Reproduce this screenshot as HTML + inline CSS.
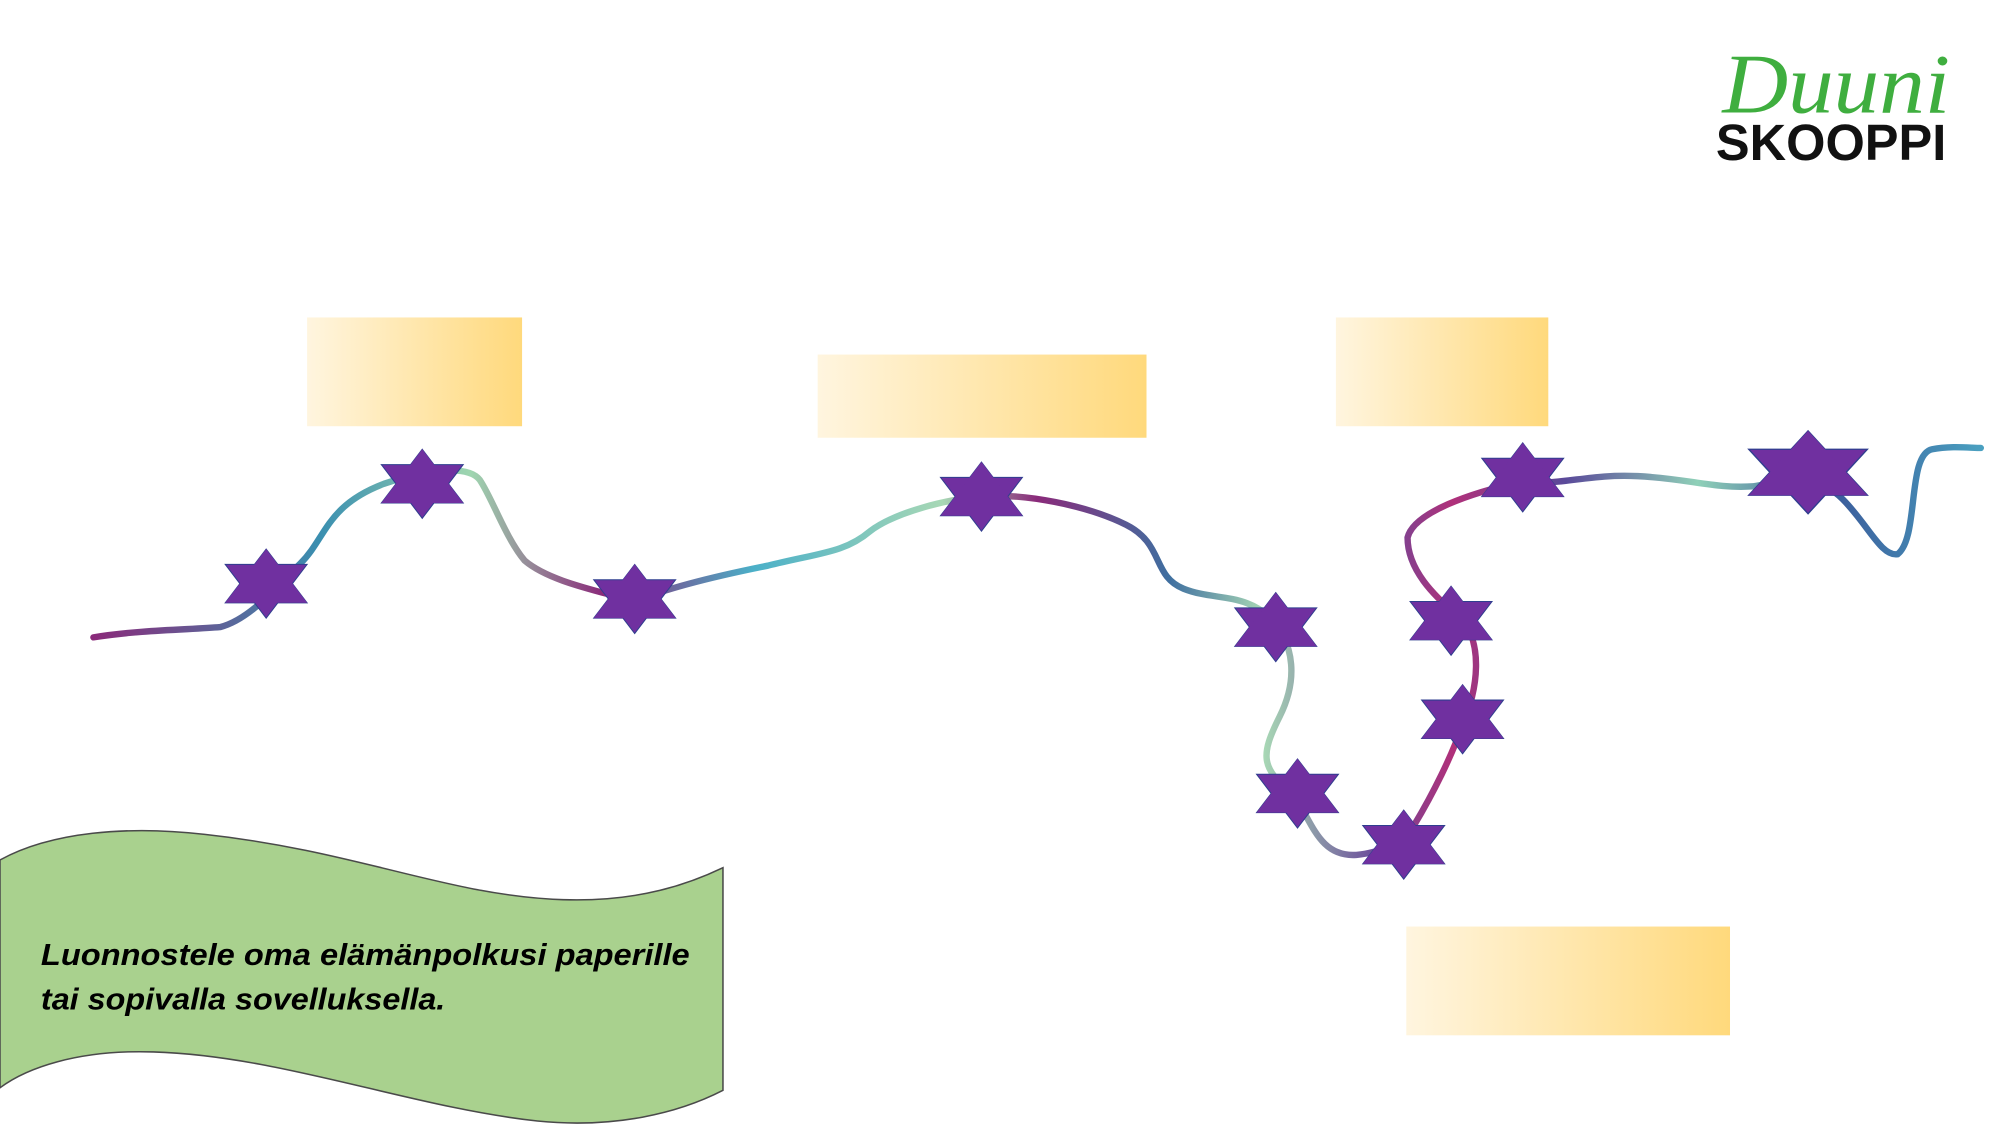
<!DOCTYPE html>
<html><head><meta charset="utf-8"><style>
html,body{margin:0;padding:0;background:#fff;}
svg{display:block;}
</style></head><body>
<svg width="2000" height="1125" viewBox="0 0 1563 879" xmlns="http://www.w3.org/2000/svg">
<defs>
<linearGradient id="box" x1="0" x2="1" y1="0" y2="0">
<stop offset="0" stop-color="#fff5df"/><stop offset="1" stop-color="#ffd97c"/>
</linearGradient>
<linearGradient id="path" x1="0" x2="1" y1="0" y2="0">
<stop offset="0" stop-color="#8a2a7a"/>
<stop offset="0.12" stop-color="#3a8fb0"/>
<stop offset="0.2" stop-color="#9fd6b0"/>
<stop offset="0.27" stop-color="#8a2a7a"/>
<stop offset="0.35" stop-color="#4bb0c8"/>
<stop offset="0.45" stop-color="#a8d8b5"/>
<stop offset="0.5" stop-color="#8a2a7a"/>
<stop offset="0.57" stop-color="#3f6fa0"/>
<stop offset="0.62" stop-color="#a8d8b5"/>
<stop offset="0.68" stop-color="#6a4a9a"/>
<stop offset="0.72" stop-color="#b0307a"/>
<stop offset="0.78" stop-color="#5a4a9a"/>
<stop offset="0.85" stop-color="#8fd0b8"/>
<stop offset="0.92" stop-color="#3a5a9a"/>
<stop offset="1" stop-color="#4aa0c0"/>
</linearGradient>
<g id="s"><polygon points="0,-27 32,15 -32,15" fill="#7030a0" stroke="#2f3e8f" stroke-width="0.8"/><polygon points="0,27 32,-15 -32,-15" fill="#7030a0" stroke="#2f3e8f" stroke-width="0.8"/><polygon points="0,-27 32,15 -32,15" fill="#7030a0"/></g>
</defs>
<rect x="240" y="248" width="168" height="85" fill="url(#box)"/>
<rect x="639" y="277" width="257" height="65" fill="url(#box)"/>
<rect x="1044" y="248" width="166" height="85" fill="url(#box)"/>
<rect x="1099" y="724" width="253" height="85" fill="url(#box)"/>

<path d="M73,498 C110,492 150,492 172,490 C195,484 215,460 235,440 C255,420 255,395 300,378 C330,368 365,362 375,375 C385,390 395,420 410,438 C430,455 470,462 496,470 C520,460 560,450 600,442 C640,432 660,432 680,415 C700,400 740,390 767,388 C800,385 850,395 880,410 C910,425 900,450 925,460 C950,470 975,462 997,487 C1010,505 1015,530 1000,560 C985,590 985,600 1010,620 C1025,640 1030,670 1060,668 C1080,666 1090,660 1105,645 C1120,620 1135,590 1143,566 C1155,540 1160,500 1140,482 C1120,465 1100,445 1100,420 C1105,400 1150,385 1190,376 C1220,380 1240,370 1280,372 C1320,374 1340,382 1370,380 C1400,375 1420,370 1440,390 C1460,410 1470,435 1483,433 C1500,420 1490,355 1510,351 C1525,348 1540,350 1548,350" fill="none" stroke="url(#path)" stroke-width="5" stroke-linecap="round"/>

<use href="#s" x="208" y="456"/>
<use href="#s" x="330" y="378"/>
<use href="#s" x="496" y="468"/>
<use href="#s" x="767" y="388"/>
<use href="#s" x="997" y="490"/>
<use href="#s" x="1190" y="373"/>
<use href="#s" x="1134" y="485"/>
<use href="#s" x="1143" y="562"/>
<use href="#s" x="1014" y="620"/>
<use href="#s" x="1097" y="660"/>
<g transform="translate(1413,369) scale(1.45,1.2)"><use href="#s"/></g>

<path d="M0,672 C40,650 100,645 160,652 C280,665 350,700 440,703 C500,705 540,690 565,678 L565,852 C530,870 480,882 420,876 C320,865 220,825 120,822 C60,820 20,835 0,850 Z" fill="#a9d18e" stroke="#4a4a4a" stroke-width="1.2"/>
<text x="32" y="754" textLength="507" lengthAdjust="spacingAndGlyphs" font-family="Liberation Sans, sans-serif" font-weight="bold" font-style="italic" font-size="24" fill="#000">Luonnostele oma elämänpolkusi paperille</text>
<text x="32" y="789" textLength="316" lengthAdjust="spacingAndGlyphs" font-family="Liberation Sans, sans-serif" font-weight="bold" font-style="italic" font-size="24" fill="#000">tai sopivalla sovelluksella.</text>

<text x="1346" y="88" textLength="178" lengthAdjust="spacingAndGlyphs" font-family="Liberation Serif, serif" font-style="italic" font-size="66" fill="#3fae3f">Duuni</text>
<text x="1341" y="125" textLength="180" lengthAdjust="spacingAndGlyphs" font-family="Liberation Sans, sans-serif" font-weight="bold" font-size="40" fill="#111">SKOOPPI</text>
</svg>
</body></html>
